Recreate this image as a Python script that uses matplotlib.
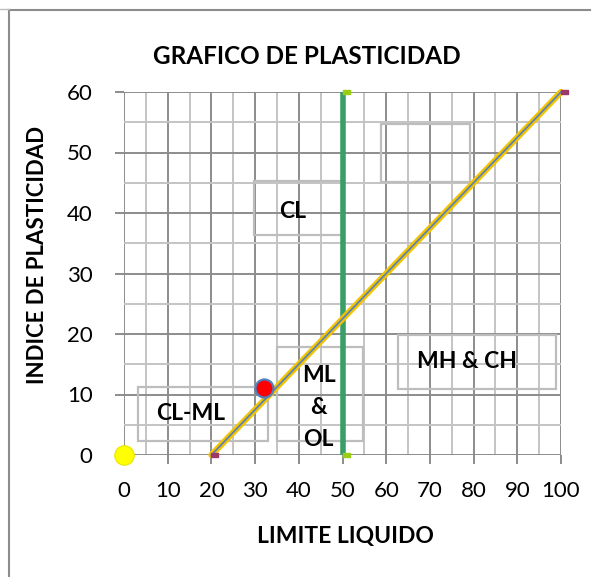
import matplotlib.pyplot as plt
from matplotlib.patches import Rectangle
from matplotlib.path import Path
from matplotlib.lines import Line2D

plt.rcParams['font.family'] = ['Lato', 'DejaVu Sans']

# Linea A y linea B
linea_a_x = [20, 100]
linea_a_y = [0, 60]
linea_b_x = [50, 50]
linea_b_y = [0, 60]

# Muestra ensayada (LL, IP) y el origen
muestra_ll = [32]
muestra_ip = [11]
origen_ll = [0]
origen_ip = [0]

ticks_x = list(range(0, 101, 10))
ticks_y = list(range(0, 61, 10))

# marcador rectangular que arranca en el punto y se extiende a la derecha
rect_marker = Path([(0, -0.22), (1, -0.22), (1, 0.22), (0, 0.22), (0, -0.22)],
                   [Path.MOVETO, Path.LINETO, Path.LINETO, Path.LINETO, Path.CLOSEPOLY])

fig = plt.figure(figsize=(5.91, 5.77), dpi=100)
ax = fig.add_axes([124 / 591, 1 - 455 / 577, 437 / 591, 363 / 577])

ax.set_xlim(0, 100)
ax.set_ylim(0, 60)
ax.set_xticks(ticks_x)
ax.set_yticks(ticks_y)
ax.set_xticks(range(5, 100, 10), minor=True)
ax.set_yticks(range(5, 60, 10), minor=True)
ax.grid(which='major', color='#8c8c8c', lw=1.4, zorder=0)
ax.grid(which='minor', color='#c4c4c4', lw=1.4, zorder=0)
ax.set_axisbelow(True)
for s in ax.spines.values():
    s.set_visible(False)
ax.tick_params(which='major', length=6.5, width=1.4, color='#8c8c8c',
               labelsize=16)
ax.tick_params(axis='x', pad=12)
ax.tick_params(axis='y', pad=16)
ax.tick_params(which='minor', length=0)

# cuadros de texto de las zonas
cuadros = [(29.7, 36.4, 20.1, 8.9), (58.7, 45.1, 20.5, 9.6), (3.2, 2.3, 29.7, 8.9),
           (34.9, 2.3, 19.9, 15.6), (62.6, 10.9, 36.3, 8.9)]
for x0, y0, w, h in cuadros:
    ax.add_patch(Rectangle((x0, y0), w, h, fill=False, ec='#bdbdbd', lw=1.6, zorder=1))

kw = dict(fontsize=16.5, fontweight='bold', ha='center', va='center', zorder=6)
ax.text(38.6, 40.3, 'CL', **kw)
ax.text(15.3, 6.9, 'CL-ML', **kw)
ax.text(44.5, 13.2, 'ML', **kw)
ax.text(44.5, 7.8, '&', **kw)
ax.text(44.5, 2.5, 'OL', **kw)
ax.text(78.5, 15.4, 'MH & CH', **kw)

# linea B (LL = 50)
ax.plot(linea_b_x, linea_b_y, color='#3a9e68', lw=4, solid_capstyle='butt', zorder=3,
        clip_on=False)
ax.plot(linea_b_x, linea_b_y, ls='none', marker=rect_marker, ms=10, mfc='#9acd14',
        mec='#9acd14', zorder=4, clip_on=False)

# linea A
ax.plot(linea_a_x, linea_a_y, color='#f5c400', lw=4.5, solid_capstyle='round', zorder=3,
        clip_on=False)
ax.plot(linea_a_x, linea_a_y, color='#5a84b8', lw=1.3, zorder=4, clip_on=False)
ax.plot(linea_a_x, linea_a_y, ls='none', marker=rect_marker, ms=10, mfc='#9b3a6a',
        mec='#9b3a6a', zorder=4, clip_on=False)

ax.plot(muestra_ll, muestra_ip, 'o', ms=13, mfc='#ff0000', mec='#4f81bd', mew=1.6,
        zorder=5)
ax.plot(origen_ll, origen_ip, 'o', ms=14, mfc='#ffff00', mec='#e6e600', mew=0.8,
        zorder=5, clip_on=False)

fig.text(307 / 591, 1 - 57 / 577, 'GRAFICO DE PLASTICIDAD', fontsize=17.5,
         fontweight='bold', ha='center', va='center')
fig.text(345 / 591, 1 - 537 / 577, 'LIMITE LIQUIDO', fontsize=16.5, fontweight='bold',
         ha='center', va='center')
fig.text(38 / 591, 1 - 255 / 577, 'INDICE DE PLASTICIDAD', fontsize=16,
         fontweight='bold', ha='center', va='center', rotation=90)

# borde del grafico
fig.add_artist(Line2D([9 / 591, 1], [1 - 10 / 577, 1 - 10 / 577], color='#8c8c8c', lw=1.5))
fig.add_artist(Line2D([9 / 591, 9 / 591], [0, 1 - 10 / 577], color='#8c8c8c', lw=1.5))
fig.add_artist(Line2D([0, 9 / 591], [1 - 9 / 577, 1 - 9 / 577], color='#bdbdbd', lw=1))

fig.savefig('out.png', dpi=100)
